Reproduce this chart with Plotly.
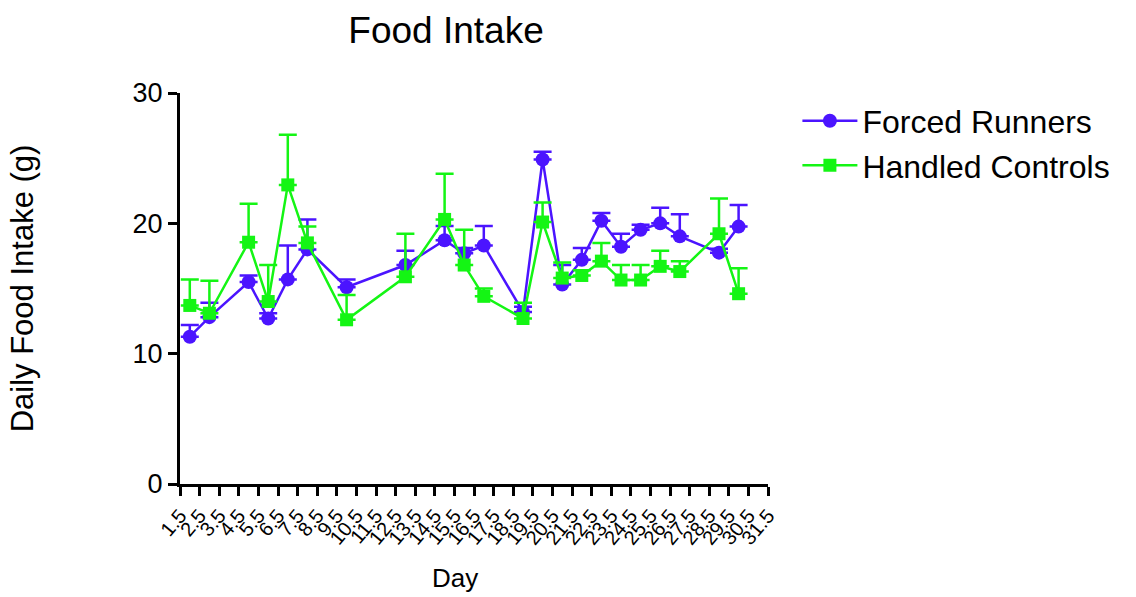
import plotly.graph_objects as go

days = [2, 3, 5, 6, 7, 8, 10, 13, 15, 16, 17, 19, 20, 21, 22, 23, 24, 25, 26, 27, 29, 30]

runners_mean = [11.3, 12.8, 15.5, 12.7, 15.7, 18.0, 15.1, 16.8, 18.7, 17.7, 18.3, 13.2,
                24.9, 15.3, 17.2, 20.2, 18.2, 19.5, 20.0, 19.0, 17.75, 19.75]
runners_err = [0.9, 1.1, 0.5, 0.4, 2.6, 2.3, 0.6, 1.1, 1.1, 0.4, 1.5, 0.4,
               0.6, 1.5, 0.9, 0.6, 1.0, 0.4, 1.2, 1.7, 0.3, 1.65]

controls_mean = [13.7, 13.1, 18.55, 14.0, 22.95, 18.5, 12.6, 15.9, 20.3, 16.8, 14.4, 12.7,
                 20.1, 15.8, 16.0, 17.1, 15.65, 15.65, 16.7, 16.3, 19.2, 14.6]
controls_err = [2.0, 2.5, 2.95, 2.8, 3.85, 1.25, 1.9, 3.3, 3.5, 2.7, 0.6, 1.2,
                1.5, 1.2, 0.4, 1.4, 1.15, 1.15, 1.2, 0.8, 2.7, 1.95]

tick_vals = [v + 0.5 for v in range(1, 32)]
tick_text = [f"{v:g}" for v in tick_vals]

blue = "#4B14FF"
green = "#14F514"

fig = go.Figure()
fig.add_trace(go.Scatter(
    x=days, y=runners_mean, name="Forced Runners", mode="lines+markers",
    line=dict(color=blue, width=2.5),
    marker=dict(symbol="circle", size=14, color=blue),
    error_y=dict(type="data", array=runners_err, arrayminus=[0] * len(days),
                 symmetric=False, color=blue, thickness=2.5, width=9),
))
fig.add_trace(go.Scatter(
    x=days, y=controls_mean, name="Handled Controls", mode="lines+markers",
    line=dict(color=green, width=2.5),
    marker=dict(symbol="square", size=13, color=green),
    error_y=dict(type="data", array=controls_err, arrayminus=[0] * len(days),
                 symmetric=False, color=green, thickness=2.5, width=9),
))

font_family = "Liberation Sans, Arial, sans-serif"

fig.update_layout(
    width=1136, height=597,
    margin=dict(l=180, r=368, t=93, b=113, autoexpand=False),
    paper_bgcolor="white", plot_bgcolor="white",
    font=dict(family=font_family, color="black"),
    title=dict(text="Food Intake", x=446 / 1136, y=1 - 30 / 597,
               xanchor="center", yanchor="middle", font=dict(size=37)),
    legend=dict(x=1.05, y=0.999, xanchor="left", yanchor="top",
                font=dict(size=32), bgcolor="rgba(0,0,0,0)",
                itemwidth=55, tracegroupgap=2),
    showlegend=True,
    annotations=[dict(text="Day", xref="paper", yref="paper",
                      x=(455 - 180) / 588, y=-(578 - 484) / 391,
                      xanchor="center", yanchor="middle", showarrow=False,
                      font=dict(size=26))],
)
fig.update_xaxes(
    range=[1.5, 31.5], tickmode="array", tickvals=tick_vals, ticktext=tick_text,
    tickangle=-50, tickfont=dict(size=20),
    showline=True, linecolor="black", linewidth=3, showgrid=False, zeroline=False,
    ticks="outside", ticklen=9, tickwidth=3, tickcolor="black",
)
fig.update_yaxes(
    range=[0, 30], tickvals=[0, 10, 20, 30],
    tickfont=dict(size=27),
    showline=True, linecolor="black", linewidth=3, showgrid=False, zeroline=False,
    ticks="outside", ticklen=9, tickwidth=3, tickcolor="black",
    title=dict(text="Daily Food Intake (g)", font=dict(size=31), standoff=90),
)

fig.write_html("out.html", config={"displayModeBar": False},
               post_script="document.body.style.margin='0';document.body.style.padding='0';")
